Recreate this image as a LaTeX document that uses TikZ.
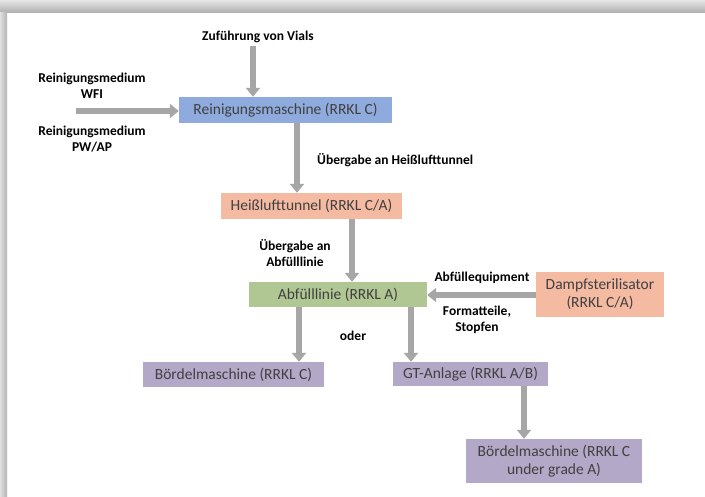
\documentclass[tikz,border=0pt]{standalone}
\usepackage{fontspec}
\setmainfont{Carlito}
\usetikzlibrary{arrows.meta}
\definecolor{cblue}{RGB}{143,170,220}
\definecolor{csalmon}{RGB}{244,186,162}
\definecolor{cgreen}{RGB}{176,199,148}
\definecolor{cpurple}{RGB}{180,168,200}
\definecolor{carrow}{RGB}{166,166,166}
\definecolor{ctext}{RGB}{64,64,64}
\tikzset{
  box/.style={rectangle, inner sep=0pt, align=center, text=ctext, font=\fontsize{15.5}{18}\selectfont},
  lbl/.style={align=center, font=\bfseries\fontsize{13.5}{16.5}\selectfont, text=black, inner sep=0pt},
  arr/.style={draw=carrow, line width=6pt, -{Triangle[width=14pt,length=9pt]}},
}
\begin{document}
\begin{tikzpicture}[x=1pt,y=-1pt]
\useasboundingbox (0,0) rectangle (705,496);
\fill[white] (0,0) rectangle (705,496);
\shade[top color=gray!20, bottom color=gray!60] (0,0) rectangle (705,12);
\shade[left color=gray!25, right color=gray!60] (0,12) rectangle (7,496);

\node[box, fill=cblue, minimum width=213pt, minimum height=26pt] (rein) at (285.5,110) {Reinigungsmaschine (RRKL C)};
\node[box, fill=csalmon, minimum width=181pt, minimum height=26pt] (heiss) at (311.5,206) {Heißlufttunnel (RRKL C/A)};
\node[box, fill=cgreen, minimum width=178pt, minimum height=25pt] (abf) at (338,294.5) {Abfülllinie (RRKL A)};
\node[box, fill=csalmon, minimum width=128pt, minimum height=45pt] (dampf) at (600,294.5) {Dampfsterilisator\\(RRKL C/A)};
\node[box, fill=cpurple, minimum width=181pt, minimum height=25pt] (bord1) at (233.5,374.5) {Bördelmaschine (RRKL C)};
\node[box, fill=cpurple, minimum width=155pt, minimum height=24pt] (gt) at (470.5,374) {GT-Anlage (RRKL A/B)};
\node[box, fill=cpurple, minimum width=176pt, minimum height=44pt] (bord2) at (554,461) {Bördelmaschine (RRKL C\\under grade A)};

\node[lbl] (zuf) at (258,37) {Zuführung von Vials};
\node[lbl] (wfi) at (92,86) {Reinigungsmedium\\WFI};
\node[lbl] (pw) at (92,139) {Reinigungsmedium\\PW/AP};
\node[lbl, anchor=west] (ueb1) at (317,160) {Übergabe an Heißlufttunnel};
\node[lbl] (ueb2) at (295,253) {Übergabe an\\Abfülllinie};
\node[lbl] (equip) at (482,278) {Abfüllequipment};
\node[lbl] (form) at (477,320) {Formatteile,\\Stopfen};
\node[lbl] (oder) at (353,336) {oder};
\coordinate (medin) at (76,111);

\draw[arr] (zuf.south -| 253,0) ++(0,3) -- (rein.north -| 253,0);
\draw[arr] (medin) -- (rein.west |- medin);
\draw[arr] (rein.south -| 297,0) -- (heiss.north -| 297,0);
\draw[arr] (heiss.south -| 352,0) -- (abf.north -| 352,0);
\draw[arr] (dampf.west |- 0,295) -- (abf.east |- 0,295);
\draw[arr] (abf.south -| 299,0) -- (bord1.north -| 299,0);
\draw[arr] (abf.south -| 411,0) -- (gt.north -| 411,0);
\draw[arr] (gt.south -| 524,0) -- (bord2.north -| 524,0);
\end{tikzpicture}
\end{document}
